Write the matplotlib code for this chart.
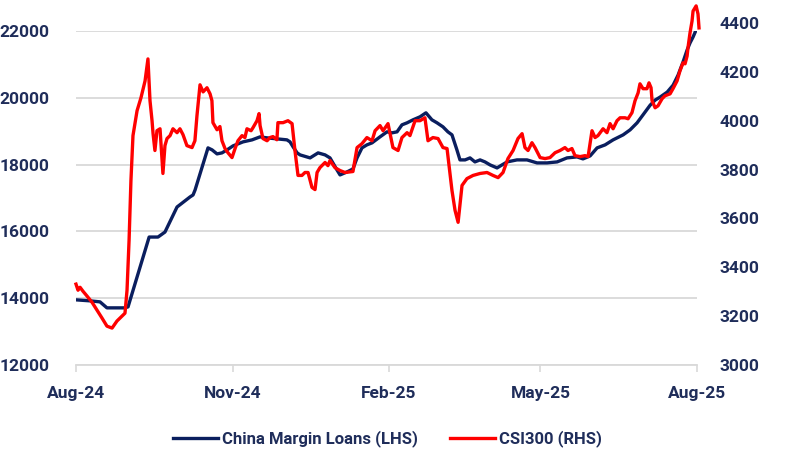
import matplotlib.pyplot as plt
import pandas as pd

######## Datos ########
start = pd.Timestamp('2024-08-01')

# China Margin Loans (LHS) - dias desde 01-ago-2024
loan_days = [0, 8.2, 14.1, 18.2, 28.8, 30.6, 43.0, 48.2, 52.3, 59.4, 67.0, 68.8, 70.0,
             77.6, 80.0, 82.9, 85.8, 88.8, 92.3, 98.2, 103.5, 108.2, 112.3, 118.1, 124.0,
             125.8, 127.6, 130.0, 131.7, 137.6, 142.3, 146.4, 149.3, 153.4, 155.2, 159.3,
             162.8, 165.2, 168.1, 171.0, 174.0, 178.7, 182.8, 185.7, 188.7, 191.6, 194.6,
             198.1, 202.2, 205.7, 209.2, 212.2, 215.7, 218.6, 221.0, 223.9, 225.7, 228.7,
             231.6, 234.5, 237.5, 240.4, 243.4, 247.5, 250.4, 253.4, 259.2, 265.1, 271.0,
             276.9, 282.8, 288.6, 294.5, 298.0, 302.2, 306.3, 311.0, 315.7, 321.6, 325.7,
             329.8, 333.3, 337.5, 340.4, 343.3, 347.5, 351.0, 353.9, 356.8, 359.2, 360.9,
             362.7, 365.0]
loan_vals = [13950, 13920, 13890, 13710, 13710, 13740, 15830, 15830, 15980, 16730, 17030,
             17090, 17240, 18500, 18440, 18320, 18350, 18440, 18560, 18680, 18740, 18830,
             18800, 18770, 18740, 18680, 18530, 18350, 18290, 18200, 18350, 18290, 18200,
             17840, 17690, 17780, 17870, 18200, 18500, 18590, 18650, 18830, 18980, 18950,
             18980, 19190, 19250, 19340, 19430, 19550, 19340, 19250, 19130, 18980, 18890,
             18440, 18140, 18140, 18200, 18080, 18140, 18080, 17990, 17900, 17990, 18080,
             18140, 18140, 18050, 18050, 18080, 18200, 18230, 18170, 18260, 18500, 18590,
             18740, 18890, 19040, 19250, 19490, 19780, 19930, 20020, 20170, 20380, 20680,
             21070, 21430, 21640, 21820, 22090]

# CSI300 (RHS)
csi_days = [0, 1.2, 2.4, 4.1, 6.5, 9.4, 12.3, 15.3, 18.2, 21.2, 24.1, 27.0, 28.8, 30.0,
            31.2, 32.3, 33.5, 35.9, 38.2, 40.6, 42.3, 43.5, 44.7, 45.3, 46.4, 47.6, 49.4,
            51.1, 52.3, 53.5, 55.3, 57.0, 59.4, 61.1, 62.9, 65.2, 68.2, 69.9, 71.1, 72.3,
            72.9, 74.7, 77.0, 78.8, 79.9, 80.5, 82.9, 84.6, 85.8, 87.6, 89.3, 91.7, 93.5,
            95.2, 97.6, 99.3, 100.5, 102.9, 104.0, 106.4, 107.6, 108.2, 109.9, 112.3,
            114.0, 115.8, 118.1, 118.7, 121.7, 124.6, 127.0, 128.7, 130.5, 132.8, 134.6,
            136.4, 138.7, 140.5, 141.7, 143.4, 146.4, 148.1, 149.3, 152.2, 155.2, 158.1,
            162.8, 165.2, 168.1, 171.0, 174.0, 175.8, 178.7, 180.5, 183.4, 186.3, 189.3,
            191.6, 194.6, 196.3, 199.3, 202.2, 205.1, 206.9, 209.8, 212.8, 215.7, 218.1,
            219.8, 221.0, 222.8, 224.6, 226.9, 229.8, 233.4, 237.5, 241.6, 245.1, 248.1,
            251.0, 253.9, 256.9, 259.8, 262.2, 263.9, 265.7, 268.0, 269.8, 272.8, 275.7,
            278.6, 281.6, 284.5, 287.4, 289.2, 291.5, 293.3, 296.3, 299.2, 301.0, 303.3,
            305.1, 306.8, 309.8, 312.1, 313.9, 315.7, 318.0, 319.8, 322.7, 324.5, 326.8,
            328.6, 330.4, 331.5, 333.3, 335.6, 336.8, 338.0, 338.6, 340.4, 342.1, 344.5,
            346.2, 349.2, 350.9, 353.3, 355.0, 356.8, 358.0, 359.2, 359.7, 360.9, 362.1,
            362.7, 364.5, 365.6, 366.2]
csi_vals = [3331, 3306, 3318, 3302, 3282, 3257, 3225, 3192, 3159, 3151, 3180, 3200, 3212,
            3306, 3510, 3755, 3939, 4041, 4094, 4163, 4253, 4082, 4000, 3947, 3878, 3959,
            3967, 3784, 3898, 3927, 3939, 3967, 3951, 3967, 3943, 3898, 3890, 3918, 4020,
            4102, 4147, 4118, 4135, 4110, 4082, 3992, 3963, 3976, 3918, 3886, 3869, 3849,
            3886, 3918, 3939, 3931, 3967, 3959, 3971, 4000, 4029, 3980, 3927, 3918, 3931,
            3935, 3922, 3992, 3992, 4000, 3988, 3878, 3776, 3776, 3788, 3788, 3727, 3718,
            3788, 3808, 3829, 3816, 3837, 3808, 3796, 3788, 3792, 3890, 3906, 3931, 3918,
            3959, 3980, 3959, 3988, 3890, 3878, 3931, 3951, 3939, 4000, 4000, 4012, 3918,
            3931, 3927, 3890, 3886, 3784, 3714, 3633, 3584, 3735, 3763, 3776, 3784, 3788,
            3776, 3767, 3788, 3845, 3878, 3927, 3947, 3890, 3878, 3910, 3890, 3849, 3845,
            3849, 3869, 3878, 3890, 3878, 3886, 3857, 3853, 3857, 3853, 3959, 3931, 3939,
            3967, 3951, 3988, 3967, 4000, 4012, 4012, 4008, 4033, 4082, 4114, 4151, 4131,
            4131, 4155, 4135, 4082, 4053, 4061, 4090, 4102, 4110, 4131, 4163, 4204, 4237,
            4233, 4265, 4298, 4359, 4408, 4449, 4470, 4437, 4380]

tick_dates = ['2024-08-01', '2024-11-01', '2025-02-01', '2025-05-01', '2025-08-01']
tick_labels = ['Aug-24', 'Nov-24', 'Feb-25', 'May-25', 'Aug-25']
left_ticks = [12000, 14000, 16000, 18000, 20000, 22000]
right_ticks = [3000, 3200, 3400, 3600, 3800, 4000, 4200, 4400]

######## Formato ########
navy = '#1F2D5A'
font = {'family': 'Roboto', 'weight': 'bold', 'size': 12.5}

loan_x = start + pd.to_timedelta(loan_days, unit='D')
csi_x = start + pd.to_timedelta(csi_days, unit='D')

fig = plt.figure(figsize=(7.94, 4.61), dpi=100)
ax = fig.add_axes([0.0957, 0.2083, 0.7821, 0.7245])
# eje derecho un poco mas alto (4400 queda sobre la grilla de 22000)
ax2 = fig.add_axes([0.0957, 0.2083, 0.7821, 0.7418], sharex=ax)
ax2.patch.set_visible(False)
ax2.yaxis.tick_right()
ax2.xaxis.set_visible(False)

l1, = ax.plot(loan_x, loan_vals, color='#0A1E5E', linewidth=2.4, label='China Margin Loans (LHS)')
l2, = ax2.plot(csi_x, csi_vals, color='#FF0000', linewidth=2.4, label='CSI300 (RHS)', clip_on=False)

ax.set_yticks(left_ticks)
ax2.set_yticks(right_ticks)
ax.set_xticks(pd.to_datetime(tick_dates))
ax.set_xticklabels(tick_labels)
ax.set_xlim(pd.Timestamp(tick_dates[0]), pd.Timestamp(tick_dates[-1]))
ax.set_ylim(12000, 22000)
ax2.set_ylim(3000, 4400)

ax.grid(axis='y', color='#D9D9D9', linewidth=1.3)
ax.set_axisbelow(True)
for a in (ax, ax2):
	for s in a.spines.values():
		s.set_visible(False)
ax.spines['bottom'].set_visible(True)
ax.spines['bottom'].set_color('#D9D9D9')
ax.spines['bottom'].set_linewidth(1.3)

ax.tick_params(axis='y', length=0, pad=19)
ax2.tick_params(axis='y', length=0, pad=16)
ax.tick_params(axis='x', length=5, color='#D9D9D9', width=1.2, pad=10)
for lab in ax.get_xticklabels() + ax.get_yticklabels() + ax2.get_yticklabels():
	lab.set_fontfamily(font['family'])
	lab.set_fontweight(font['weight'])
	lab.set_fontsize(font['size'])
	lab.set_color(navy)

leg = fig.legend([l1, l2], [l1.get_label(), l2.get_label()], loc='center',
                 bbox_to_anchor=(0.488, 0.048), ncol=2, frameon=False,
                 handlelength=2.7, handletextpad=0.25, columnspacing=1.9,
                 prop={'family': 'Roboto', 'weight': 'bold', 'size': 12})
for t in leg.get_texts():
	t.set_color(navy)

plt.savefig('out.png', dpi=100)
